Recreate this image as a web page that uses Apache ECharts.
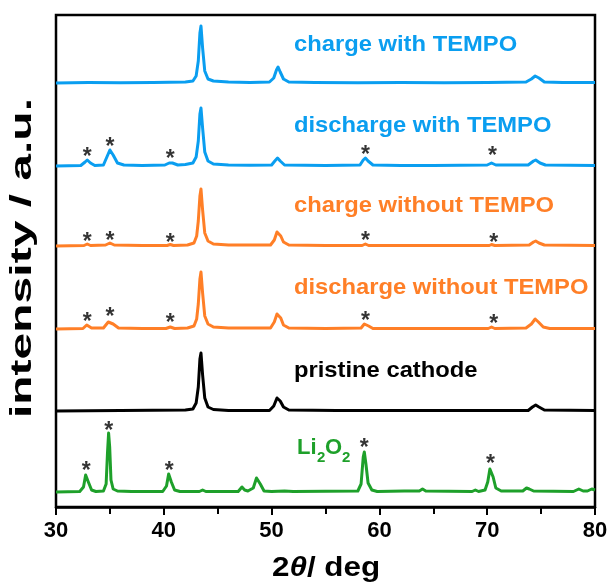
<!DOCTYPE html>
<html>
<head>
<meta charset="utf-8">
<script src="https://cdn.jsdelivr.net/npm/echarts@6/dist/echarts.min.js"></script>
<style>html,body{margin:0;padding:0;background:#fff}#c{width:608px;height:582px}</style>
</head>
<body>
<div id="c"></div>
<script>
// ---- data (x = 2theta in deg, y = relative intensity in plot units) ----
const xTicks = [30, 40, 50, 60, 70, 80];
const seriesNames = ['charge with TEMPO', 'discharge with TEMPO', 'charge without TEMPO', 'discharge without TEMPO', 'pristine cathode', 'Li2O2'];
const offsets = [424, 341, 261, 178, 96, 15];

const chargeWithTempo = [[30,0],[33,0.5],[36,0.3],[39,0.6],[42,1],[42.7,2],[43.0,7],[43.2,22],[43.35,50],[43.45,57],[43.6,35],[43.8,12],[44.1,4],[44.6,2],[46,1],[48,0.6],[49.8,1],[50.2,5],[50.45,13],[50.6,16],[50.8,11],[51.1,4],[51.6,1],[54,0.5],[58,0.3],[62,0.6],[66,0.3],[70,0.5],[73.6,1],[74.1,4],[74.45,7],[74.8,5],[75.3,1],[77,0.4],[80,0.5]];
const dischargeWithTempo = [[30,0],[32.3,0.5],[32.7,4],[32.9,6],[33.2,3],[33.6,0.5],[34.4,1],[34.8,11],[35.0,16],[35.3,11],[35.7,3],[36.3,1],[38,0.5],[40.1,1],[40.5,3],[40.8,3],[41.3,1],[42,1.5],[42.7,3],[43.0,9],[43.2,25],[43.35,52],[43.45,58],[43.6,38],[43.8,14],[44.1,5],[44.6,2],[46,1],[48,0.8],[50,1],[50.3,5],[50.55,8],[50.8,5],[51.2,1],[55,0.5],[58.2,1],[58.5,6],[58.7,8],[58.95,5],[59.4,1],[62,0.5],[65,0.5],[70,1],[70.4,3],[70.8,1],[73.8,1],[74.3,5],[74.5,6],[74.9,3],[75.4,1],[80,0.5]];
const chargeWithoutTempo = [[30,0],[32.6,0.5],[32.9,2],[33.2,0.5],[34.6,1],[35.0,3],[35.4,1],[38,0.5],[40.3,0.5],[40.6,1.5],[40.9,0.5],[42.2,1],[42.8,3],[43.05,10],[43.2,25],[43.35,50],[43.45,57],[43.6,36],[43.8,13],[44.1,5],[44.6,2],[46,1],[49.9,1],[50.25,6],[50.5,14],[50.65,15],[50.85,10],[51.1,4],[51.6,1],[55,0.5],[58.4,0.5],[58.7,2],[59,0.5],[64,0.5],[70.2,0.5],[70.4,1.5],[70.7,0.5],[73.9,1],[74.3,4],[74.5,5],[74.8,3],[75.3,1],[80,0.5]];
const dischargeWithoutTempo = [[30,0],[32.5,0.5],[32.85,4],[32.95,5],[33.3,1],[34.4,1],[34.85,7],[35.0,8],[35.3,5],[35.8,1],[38,0.5],[40.2,0.5],[40.6,2],[41,0.5],[42.2,1],[42.8,3],[43.05,10],[43.2,25],[43.35,50],[43.45,57],[43.6,36],[43.8,13],[44.1,5],[44.6,2],[46,1],[49.9,1],[50.25,7],[50.5,15],[50.65,16],[50.85,11],[51.1,4],[51.6,1],[55,0.5],[58.3,1],[58.6,5],[58.75,6],[59,3],[59.4,0.5],[64,0.5],[70.1,0.5],[70.4,2],[70.7,0.5],[73.6,1],[74.1,5],[74.45,10],[74.75,7],[75.2,2],[75.8,0.5],[80,0.5]];
const pristine = [[30,0],[36,0.5],[42,1],[42.7,2],[43.0,8],[43.2,24],[43.35,52],[43.45,58],[43.6,36],[43.8,13],[44.1,4],[44.6,1.5],[46,0.5],[49.8,0.5],[50.2,5],[50.5,13],[50.6,15],[50.8,10],[51.1,4],[51.6,1],[56,0.5],[68,0.5],[73.8,0.5],[74.2,4],[74.5,6],[74.8,4],[75.3,1],[80,0.5]];
const li2o2 = [[30,0],[32.2,0.5],[32.55,5],[32.75,17],[32.85,19],[33.0,10],[33.3,2],[33.7,0.5],[34.4,1],[34.65,8],[34.78,40],[34.88,59],[34.98,45],[35.1,12],[35.3,3],[35.7,1],[37,0.5],[39.9,0.5],[40.25,6],[40.45,18],[40.55,19],[40.7,10],[41,2],[41.5,0.5],[43.3,0.5],[43.6,2],[43.9,0.5],[46.9,0.5],[47.25,5],[47.5,2],[47.8,1],[48.3,4],[48.6,14],[48.75,15],[48.95,8],[49.3,1],[50,0.5],[51.2,1],[52,0.5],[58,1],[58.3,8],[58.5,35],[58.6,40],[58.75,28],[58.95,9],[59.3,2],[59.8,0.5],[62.3,1],[63.7,1],[64.0,3],[64.3,1],[68.6,0.5],[68.9,2],[69.2,0.5],[69.8,2],[70.05,10],[70.25,23],[70.35,25],[70.55,15],[70.8,4],[71.3,1],[73.3,1],[73.65,4],[73.9,3],[74.3,1],[78,0.5],[78.5,3],[78.9,1],[79.3,1],[79.7,3],[80,2]];

// asterisk markers (absolute plot units)
const starsX = [32.9, 35.0, 40.6, 58.7, 70.5, 32.9, 35.0, 40.6, 58.7, 70.6, 32.9, 35.0, 40.6, 58.7, 70.6, 32.8, 34.9, 40.5, 58.6, 70.3];
const starsY = [354, 364, 352, 356, 355, 269, 270, 268, 270, 268, 189, 194, 188, 190, 187, 40, 80, 40, 63, 47];

const colors = ['#0A9EF0', '#0A9EF0', '#FF7F27', '#FF7F27', '#000000', '#1EA02A'];
const FONT = '"Liberation Sans", Arial, sans-serif';

const curves = [chargeWithTempo, dischargeWithTempo, chargeWithoutTempo, dischargeWithoutTempo, pristine, li2o2];
const lineSeries = curves.map((c, i) => ({
  type: 'line',
  name: seriesNames[i],
  data: c.map(p => [p[0], p[1] + offsets[i]]),
  showSymbol: false,
  symbol: 'none',
  silent: true,
  lineStyle: { color: colors[i], width: 3, join: 'round' },
  z: 2
}));

const starSeries = {
  type: 'scatter',
  data: starsX.map((x, i) => [x, starsY[i]]),
  symbolSize: 1,
  itemStyle: { color: 'rgba(0,0,0,0)' },
  label: { show: true, position: 'inside', formatter: '*', fontSize: 23, fontWeight: 'bold', color: '#000', fontFamily: FONT, offset: [0, 5] },
  z: 3
};

function txt(x, y, text, color, size, sx, extra) {
  const o = { type: 'text', x: x, y: y, scaleX: sx || 1, style: { text: text, fill: color, fontSize: size, fontWeight: 'bold', fontFamily: FONT, align: 'left', verticalAlign: 'middle' }, z: 10 };
  return Object.assign(o, extra || {});
}

const chart = echarts.init(document.getElementById('c'), null, { renderer: 'canvas' });
chart.setOption({
  animation: false,
  backgroundColor: '#fff',
  grid: { left: 56, right: 13, top: 15, bottom: 75, containLabel: false, outerBoundsMode: 'none', show: true, borderColor: '#000', borderWidth: 2.5, backgroundColor: 'transparent' },
  xAxis: {
    type: 'value', min: 30, max: 80, interval: 10,
    axisLine: { show: true, lineStyle: { color: '#000', width: 2.5 } },
    axisTick: { show: true, inside: false, length: 8, lineStyle: { color: '#000', width: 2 } },
    minorTick: { show: true, splitNumber: 2, length: 7, lineStyle: { color: '#000', width: 2 } },
    splitLine: { show: false },
    axisLabel: { fontSize: 22, fontWeight: 'bold', color: '#000', fontFamily: FONT, margin: 13, formatter: v => String(v) }
  },
  yAxis: {
    type: 'value', min: 0, max: 492,
    axisLine: { show: false }, axisTick: { show: false }, axisLabel: { show: false }, splitLine: { show: false }
  },
  graphic: [
    txt(294, 45, 'charge with TEMPO', colors[0], 22, 1.08),
    txt(294, 126, 'discharge with TEMPO', colors[1], 22, 1.08),
    txt(294, 206, 'charge without TEMPO', colors[2], 22, 1.08),
    txt(294, 288, 'discharge without TEMPO', colors[3], 22, 1.08),
    txt(294, 371, 'pristine cathode', colors[4], 22, 1.08),
    txt(297, 448, 'Li', colors[5], 22),
    txt(317, 458, '2', colors[5], 15),
    txt(325, 448, 'O', colors[5], 22),
    txt(342, 458, '2', colors[5], 15),
    {
      type: 'text', x: 272, y: 568, scaleX: 1.12, z: 10,
      style: {
        text: '{a|2}{b|θ}{a|/ deg}', align: 'left', verticalAlign: 'middle',
        rich: {
          a: { fontSize: 28, fontWeight: 'bold', fill: '#000', fontFamily: FONT },
          b: { fontSize: 28, fontWeight: 'bold', fontStyle: 'italic', fill: '#000', fontFamily: FONT }
        }
      }
    },
    {
      type: 'text', x: 23, y: 258, rotation: Math.PI / 2, scaleX: 1.6, z: 10,
      style: { text: 'intensity / a.u.', fill: '#000', fontSize: 30, fontWeight: 'bold', fontFamily: FONT, align: 'center', verticalAlign: 'middle' }
    }
  ],
  series: lineSeries.concat([starSeries])
});
</script>
</body>
</html>
